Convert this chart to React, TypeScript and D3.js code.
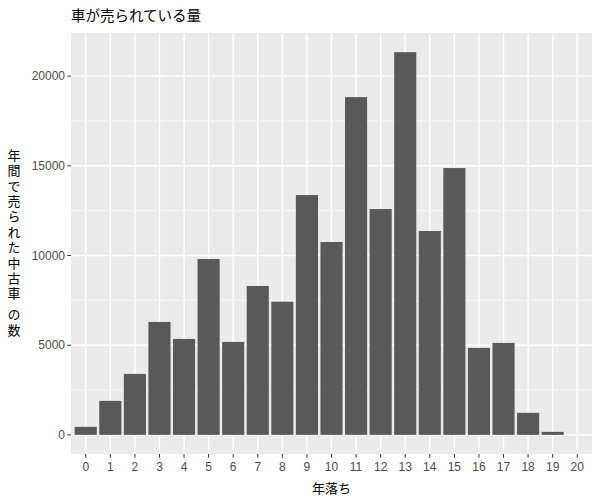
import React from "react";
import * as d3 from "d3";

const categories: string[] = ["0","1","2","3","4","5","6","7","8","9","10","11","12","13","14","15","16","17","18","19","20"];
const counts: number[] = [446,1894,3398,6295,5348,9805,5181,8300,7425,13370,10752,18830,12590,21337,11365,14875,4847,5125,1226,167,0];
const yTicks: number[] = [0,5000,10000,15000,20000];
const yMinor: number[] = [2500,7500,12500,17500];
const title = "車が売られている量";
const xTitle = "年落ち";
const yTitle = "年間で売られた中古車 の数";

const W = 600, H = 500;
const panel = { left: 71, right: 592, top: 33, bottom: 454 };

export default function App() {
  const maxV = d3.max(counts) as number;
  const y = d3.scaleLinear().domain([-0.05 * maxV, 1.05 * maxV]).range([panel.bottom, panel.top]);
  const n = categories.length;
  const xc = d3.scaleLinear().domain([-0.6, n - 1 + 0.6]).range([panel.left, panel.right]);
  const unit = xc(1) - xc(0);
  const bw = unit * 0.9;
  const jp = "'Noto Sans CJK JP', sans-serif";
  const num = "'Liberation Sans', Arial, sans-serif";
  const centerY = (panel.top + panel.bottom) / 2;

  return (
    <svg width={W} height={H} style={{ position: "absolute", left: 0, top: 0, background: "#fff" }}>
      <rect x={0} y={0} width={W} height={H} fill="#fff" />
      <rect x={panel.left} y={panel.top} width={panel.right - panel.left} height={panel.bottom - panel.top} fill="#EBEBEB" />
      {yMinor.map((t) => (
        <line key={"ym" + t} x1={panel.left} x2={panel.right} y1={y(t)} y2={y(t)} stroke="#fff" strokeWidth={0.7} />
      ))}
      {yTicks.map((t) => (
        <line key={"yg" + t} x1={panel.left} x2={panel.right} y1={y(t)} y2={y(t)} stroke="#fff" strokeWidth={1.4} />
      ))}
      {categories.map((c, i) => (
        <line key={"xg" + c} x1={xc(i)} x2={xc(i)} y1={panel.top} y2={panel.bottom} stroke="#fff" strokeWidth={1.4} />
      ))}
      {counts.map((v, i) =>
        v > 0 ? (
          <rect key={"b" + i} x={xc(i) - bw / 2} y={y(v)} width={bw} height={y(0) - y(v)} fill="#595959" />
        ) : null
      )}
      {yTicks.map((t) => (
        <g key={"yt" + t}>
          <line x1={panel.left - 3.7} x2={panel.left} y1={y(t)} y2={y(t)} stroke="#333" strokeWidth={1} />
          <text x={panel.left - 6} y={y(t)} dy="0.35em" textAnchor="end" fontFamily={num} fontSize={12} fill="#4D4D4D">
            {t}
          </text>
        </g>
      ))}
      {categories.map((c, i) => (
        <g key={"xt" + c}>
          <line x1={xc(i)} x2={xc(i)} y1={panel.bottom} y2={panel.bottom + 3.7} stroke="#333" strokeWidth={1} />
          <text x={xc(i)} y={panel.bottom + 17} textAnchor="middle" fontFamily={num} fontSize={12} fill="#4D4D4D">
            {c}
          </text>
        </g>
      ))}
      <text x={panel.left} y={21} fontFamily={jp} fontSize={14.5} fill="#000">
        {title}
      </text>
      <text x={(panel.left + panel.right) / 2} y={493} textAnchor="middle" fontFamily={jp} fontSize={13} fill="#000">
        {xTitle}
      </text>
      <text
        x={14}
        y={centerY}
        textAnchor="middle"
        fontFamily={jp}
        fontSize={13}
        fill="#000"
        style={{ writingMode: "vertical-rl", letterSpacing: "2.4px" }}
      >
        {yTitle}
      </text>
    </svg>
  );
}
